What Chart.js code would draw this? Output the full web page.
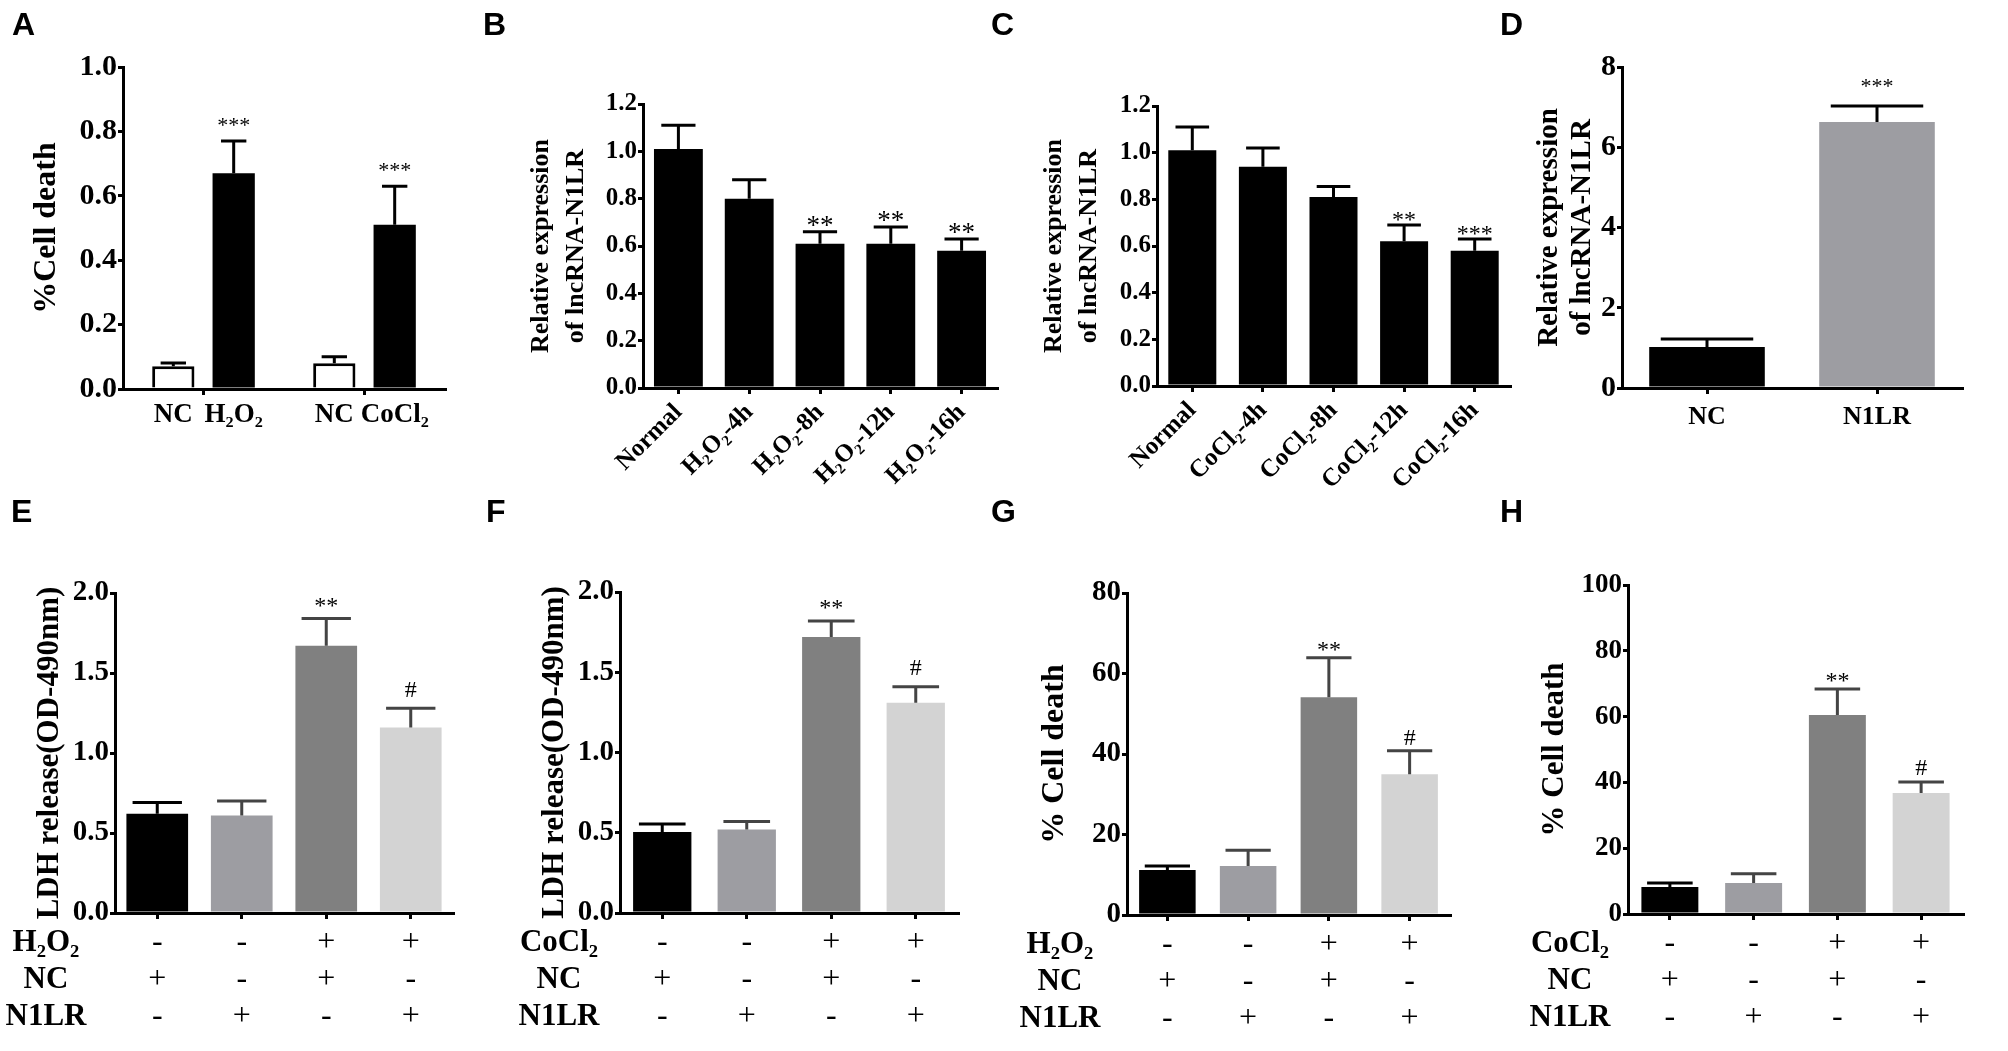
<!DOCTYPE html>
<html>
<head>
<meta charset="utf-8">
<script src="https://cdn.jsdelivr.net/npm/chart.js"></script>
<style>
  html, body { margin: 0; padding: 0; background: #fff; }
  #wrap { position: relative; width: 2008px; height: 1051px; overflow: hidden; background: #fff; }
  #wrap canvas { position: absolute; left: 0; top: 0; }
  .tag { position: absolute; font: bold 32px "Liberation Sans", Arial, sans-serif; line-height: 1; color: #000; }
</style>
</head>
<body>
<div id="wrap">
  <canvas id="cA" width="2008" height="1051"></canvas>
  <canvas id="cB" width="2008" height="1051"></canvas>
  <canvas id="cC" width="2008" height="1051"></canvas>
  <canvas id="cD" width="2008" height="1051"></canvas>
  <canvas id="cE" width="2008" height="1051"></canvas>
  <canvas id="cF" width="2008" height="1051"></canvas>
  <canvas id="cG" width="2008" height="1051"></canvas>
  <canvas id="cH" width="2008" height="1051"></canvas>
  <div class="tag" style="left:12px;top:8px">A</div>
  <div class="tag" style="left:483px;top:8px">B</div>
  <div class="tag" style="left:991px;top:8px">C</div>
  <div class="tag" style="left:1500px;top:8px">D</div>
  <div class="tag" style="left:11px;top:495px">E</div>
  <div class="tag" style="left:486px;top:495px">F</div>
  <div class="tag" style="left:991px;top:495px">G</div>
  <div class="tag" style="left:1500px;top:495px">H</div>
</div>
<script>
// ---- data (mean and SEM) ----
// A: cell death, NC vs treatment
const aGroups = ['H₂O₂', 'CoCl₂'];
const aNcNames = ['NC', 'NC'];
const aTreatNames = ['H₂O₂', 'CoCl₂'];
const aNc = [0.071, 0.08];
const aNcSem = [0.01, 0.02];
const aTreat = [0.67, 0.51];
const aTreatSem = [0.10, 0.12];
const aMarks = ['***', '***'];

// B: lncRNA-N1LR after H2O2
const bLabels = ['Normal', 'H₂O₂-4h', 'H₂O₂-8h', 'H₂O₂-12h', 'H₂O₂-16h'];
const bMean = [1.01, 0.80, 0.61, 0.61, 0.58];
const bSem = [0.10, 0.08, 0.05, 0.07, 0.05];
const bMarks = ['', '', '**', '**', '**'];

// C: lncRNA-N1LR after CoCl2
const cLabels = ['Normal', 'CoCl₂-4h', 'CoCl₂-8h', 'CoCl₂-12h', 'CoCl₂-16h'];
const cMean = [1.01, 0.94, 0.81, 0.62, 0.58];
const cSem = [0.10, 0.08, 0.045, 0.07, 0.05];
const cMarks = ['', '', '', '**', '***'];

// D: overexpression
const dLabels = ['NC', 'N1LR'];
const dMean = [1.02, 6.63];
const dSem = [0.20, 0.40];
const dMarks = ['', '***'];

// E-H: four groups
const eMean = [0.62, 0.61, 1.67, 1.16];
const eSem = [0.07, 0.09, 0.17, 0.12];
const fMean = [0.505, 0.52, 1.72, 1.31];
const fSem = [0.05, 0.05, 0.10, 0.10];
const gMean = [11.2, 12.2, 54.1, 35.0];
const gSem = [1.0, 3.9, 9.8, 5.8];
const hMean = [8.2, 9.4, 60.5, 36.8];
const hSem = [1.2, 2.8, 7.9, 3.3];
const groupMarks = ['', '', '**', '#'];

// treatment table under E-H
const treatRow = ['-', '-', '+', '+'];
const ncRow = ['+', '-', '+', '-'];
const n1lrRow = ['-', '+', '-', '+'];

const W = 2008, H = 1051;
const serif = '"Liberation Serif", "Times New Roman", serif';
const grays = ['#000000', '#9d9da2', '#808080', '#d3d3d3'];
const grayErr = ['#000000', '#444444', '#444444', '#444444'];

// error bars and significance marks, placed from the bar elements
const errBars = {
  id: 'errBars',
  afterDatasetsDraw(chart, args, opts) {
    const ctx = chart.ctx, y = chart.scales.y;
    chart.data.datasets.forEach((ds, di) => {
      if (!ds.sem) return;
      chart.getDatasetMeta(di).data.forEach((bar, i) => {
        const top = y.getPixelForValue(ds.data[i] + ds.sem[i]);
        const half = bar.width * (opts.cap || 0.22);
        ctx.save();
        ctx.strokeStyle = ds.errColor ? ds.errColor[i] : '#000';
        ctx.lineWidth = 3;
        ctx.beginPath();
        ctx.moveTo(bar.x, bar.y);
        ctx.lineTo(bar.x, top);
        ctx.moveTo(bar.x - half, top);
        ctx.lineTo(bar.x + half, top);
        ctx.stroke();
        const mark = ds.marks && ds.marks[i];
        if (mark) {
          const fs = opts.size || 22;
          ctx.fillStyle = '#000';
          ctx.font = fs + 'px ' + serif;
          ctx.textAlign = 'center';
          ctx.textBaseline = 'alphabetic';
          const k = mark[0] === '*' ? 0.57 : 0.34;
          ctx.fillText(mark, bar.x, top - opts.gap + k * fs);
        }
        ctx.restore();
      });
    });
  }
};

// names under individual bars (panel A)
const barNames = {
  id: 'barNames',
  afterDraw(chart, args, opts) {
    if (!opts.size) return;
    const ctx = chart.ctx, x = chart.scales.x;
    ctx.save();
    ctx.font = 'bold ' + opts.size + 'px ' + serif;
    ctx.fillStyle = '#000';
    ctx.textAlign = 'center';
    ctx.textBaseline = 'middle';
    chart.data.datasets.forEach((ds, di) => {
      chart.getDatasetMeta(di).data.forEach((bar, i) => {
        ctx.fillText(ds.names[i], bar.x, x.top + opts.dy);
      });
    });
    ctx.restore();
  }
};

// row headers for the +/- table, aligned with the tick label lines
const rowHeads = {
  id: 'rowHeads',
  afterDraw(chart, args, opts) {
    if (!opts.rows) return;
    const ctx = chart.ctx, x = chart.scales.x;
    const o = chart.options.scales.x;
    const lh = o.ticks.font.size * o.ticks.font.lineHeight;
    ctx.save();
    ctx.font = 'bold ' + opts.size + 'px ' + serif;
    ctx.fillStyle = '#000';
    ctx.textAlign = 'center';
    ctx.textBaseline = 'middle';
    opts.rows.forEach((t, i) => {
      ctx.fillText(t, opts.cx, x.top + o.grid.tickLength + o.ticks.padding + lh * (i + 0.5));
    });
    ctx.restore();
  }
};

Chart.register(errBars, barNames, rowHeads);
Chart.defaults.font.family = serif;
Chart.defaults.color = '#000';

function makeChart(id, area, s) {
  return new Chart(document.getElementById(id), {
    type: 'bar',
    data: { labels: s.labels, datasets: s.datasets },
    options: {
      responsive: false,
      animation: false,
      events: [],
      layout: { padding: { left: area.yl, top: area.top, right: W - area.right, bottom: 0 } },
      plugins: {
        legend: { display: false },
        tooltip: { enabled: false },
        errBars: s.err,
        barNames: s.names || {},
        rowHeads: s.rows || {}
      },
      scales: {
        x: {
          grid: { display: true, drawOnChartArea: false, offset: false, tickLength: 6, lineWidth: 3, color: '#000' },
          border: { display: true, color: '#000', width: 3 },
          ticks: {
            display: s.xTicks !== false,
            color: '#000',
            font: s.xFont,
            padding: s.xPad,
            minRotation: s.rot || 0,
            maxRotation: s.rot || 0,
            autoSkip: false
          },
          afterFit: sc => { sc.height = H - area.bottom; }
        },
        y: {
          min: 0,
          max: s.yMax,
          ticks: {
            stepSize: s.step,
            color: '#000',
            padding: 1,
            font: { family: serif, weight: 'bold', size: s.yTick },
            callback: v => v.toFixed(s.dec)
          },
          grid: { display: true, drawOnChartArea: false, tickLength: 5, lineWidth: 3, color: '#000' },
          border: { display: true, color: '#000', width: 3 },
          title: {
            display: true,
            text: s.yTitle,
            color: '#000',
            padding: 0,
            font: { family: serif, weight: 'bold', size: s.yTitleSize, lineHeight: s.yTitleLh }
          },
          afterFit: sc => { sc.width = area.left - area.yl; }
        }
      }
    }
  });
}

function barSet(mean, sem, marks, colors, errColors, pct) {
  return [{
    data: mean, sem: sem, marks: marks, errColor: errColors,
    backgroundColor: colors, borderWidth: 0,
    barPercentage: pct, categoryPercentage: 1
  }];
}

// A
makeChart('cA', { yl: 28, left: 123, top: 67, right: 445, bottom: 389 }, {
  labels: aGroups,
  datasets: [
    { data: aNc, sem: aNcSem, marks: ['', ''], names: aNcNames, backgroundColor: '#ffffff',
      borderColor: '#000', borderWidth: 3, barPercentage: 0.7, categoryPercentage: 0.75 },
    { data: aTreat, sem: aTreatSem, marks: aMarks, names: aTreatNames, backgroundColor: '#000000',
      borderWidth: 0, barPercentage: 0.7, categoryPercentage: 0.75 }
  ],
  xTicks: false, xFont: { size: 27 }, xPad: 4,
  names: { size: 27, dy: 26 },
  yMax: 1.0, step: 0.2, dec: 1, yTick: 30,
  yTitle: '%Cell death', yTitleSize: 32, yTitleLh: 1.2,
  err: { gap: 22, size: 22, cap: 0.3 }
});

// B
makeChart('cB', { yl: 524, left: 643, top: 104, right: 997, bottom: 388 }, {
  labels: bLabels,
  datasets: barSet(bMean, bSem, bMarks, '#000', null, 0.69),
  xFont: { family: serif, weight: 'bold', size: 25 }, xPad: 4, rot: 45,
  yMax: 1.2, step: 0.2, dec: 1, yTick: 25,
  yTitle: ['Relative expression', 'of lncRNA-N1LR'], yTitleSize: 26, yTitleLh: 1.35,
  err: { gap: 13, size: 27, cap: 0.35 }
});

// C
makeChart('cC', { yl: 1037, left: 1157, top: 106, right: 1510, bottom: 386 }, {
  labels: cLabels,
  datasets: barSet(cMean, cSem, cMarks, '#000', null, 0.68),
  xFont: { family: serif, weight: 'bold', size: 25 }, xPad: 4, rot: 45,
  yMax: 1.2, step: 0.2, dec: 1, yTick: 25,
  yTitle: ['Relative expression', 'of lncRNA-N1LR'], yTitleSize: 26, yTitleLh: 1.35,
  err: { gap: 12, size: 24, cap: 0.35 }
});

// D
makeChart('cD', { yl: 1533, left: 1622, top: 67, right: 1962, bottom: 388 }, {
  labels: dLabels,
  datasets: barSet(dMean, dSem, dMarks, ['#000000', '#9d9da2'], ['#000', '#000'], 0.68),
  xFont: { family: serif, weight: 'bold', size: 26 }, xPad: 8,
  yMax: 8, step: 2, dec: 0, yTick: 30,
  yTitle: ['Relative expression', 'of lncRNA-N1LR'], yTitleSize: 29, yTitleLh: 1.14,
  err: { gap: 25, size: 22, cap: 0.4 }
});

// E-H share the treatment table
function tableLabels() {
  return treatRow.map((t, i) => [t, ncRow[i], n1lrRow[i]]);
}
const tableFont = { family: serif, size: 32, lineHeight: 1.16 };

makeChart('cE', { yl: 31, left: 115, top: 593, right: 453, bottom: 913 }, {
  labels: tableLabels(),
  datasets: barSet(eMean, eSem, groupMarks, grays, grayErr, 0.73),
  xFont: tableFont, xPad: 5,
  rows: { rows: ['H₂O₂', 'NC', 'N1LR'], cx: 46, size: 31 },
  yMax: 2.0, step: 0.5, dec: 1, yTick: 29,
  yTitle: 'LDH release(OD-490nm)', yTitleSize: 31, yTitleLh: 1.2,
  err: { gap: 19, size: 24, cap: 0.4 }
});

makeChart('cF', { yl: 536, left: 620, top: 592, right: 958, bottom: 913 }, {
  labels: tableLabels(),
  datasets: barSet(fMean, fSem, groupMarks, grays, grayErr, 0.69),
  xFont: tableFont, xPad: 5,
  rows: { rows: ['CoCl₂', 'NC', 'N1LR'], cx: 559, size: 31 },
  yMax: 2.0, step: 0.5, dec: 1, yTick: 29,
  yTitle: 'LDH release(OD-490nm)', yTitleSize: 31, yTitleLh: 1.2,
  err: { gap: 20, size: 24, cap: 0.4 }
});

makeChart('cG', { yl: 1036, left: 1127, top: 593, right: 1450, bottom: 915 }, {
  labels: tableLabels(),
  datasets: barSet(gMean, gSem, groupMarks, grays, grayErr, 0.70),
  xFont: tableFont, xPad: 5,
  rows: { rows: ['H₂O₂', 'NC', 'N1LR'], cx: 1060, size: 31 },
  yMax: 80, step: 20, dec: 0, yTick: 29,
  yTitle: '% Cell death', yTitleSize: 32, yTitleLh: 1.2,
  err: { gap: 14, size: 24, cap: 0.4 }
});

makeChart('cH', { yl: 1536, left: 1628, top: 585, right: 1963, bottom: 914 }, {
  labels: tableLabels(),
  datasets: barSet(hMean, hSem, groupMarks, grays, grayErr, 0.68),
  xFont: tableFont, xPad: 5,
  rows: { rows: ['CoCl₂', 'NC', 'N1LR'], cx: 1570, size: 31 },
  yMax: 100, step: 20, dec: 0, yTick: 27,
  yTitle: '% Cell death', yTitleSize: 31, yTitleLh: 1.2,
  err: { gap: 15, size: 24, cap: 0.4 }
});
</script>
</body>
</html>
